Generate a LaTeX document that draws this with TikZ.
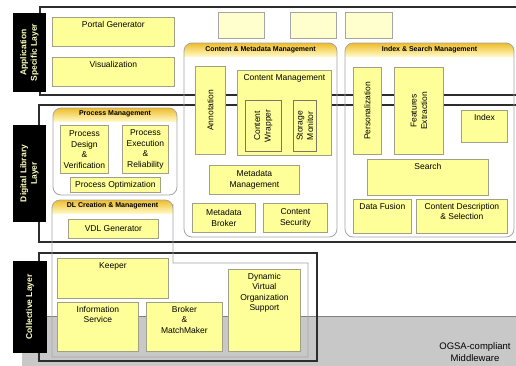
\documentclass[tikz,border=0pt]{standalone}
\usepackage{fontspec}
\setsansfont{Liberation Sans}
\definecolor{boxyellow}{RGB}{255,255,153}
\definecolor{paleyellow}{RGB}{255,255,205}
\definecolor{boxedge}{RGB}{160,160,135}
\definecolor{inneredge}{RGB}{120,120,100}
\definecolor{groupedge}{RGB}{165,165,165}
\definecolor{hdrtop}{RGB}{238,188,40}
\definecolor{hdrbottom}{RGB}{255,248,195}
\definecolor{labeltext}{RGB}{255,255,190}
\definecolor{mwgray}{RGB}{200,200,200}
\definecolor{layeredge}{RGB}{45,45,45}

\begin{document}
\begin{tikzpicture}[x=1pt,y=-1pt,font=\sffamily\fontsize{8.5}{10.5}\selectfont,
    ybox/.style={draw=boxedge,fill=boxyellow,line width=0.8pt,inner sep=0pt,align=center,anchor=north west},
    toptext/.style={anchor=north,inner sep=0pt,align=center,yshift=-4pt},
    vtext/.style={rotate=90,inner sep=0pt,align=center},
    layer/.style={draw=layeredge,line width=1.1pt},
    lyrlabel/.style={fill=black,text=labeltext,rotate=90,inner sep=0pt,align=center,
        font=\sffamily\bfseries\fontsize{8.5}{10.5}\selectfont},
    grp/.style={draw=groupedge,line width=0.8pt},
    hdrtext/.style={inner sep=0pt,font=\sffamily\bfseries\fontsize{7}{8}\selectfont}]
    \useasboundingbox[fill=white] (0,0) rectangle (516,365);
    \clip (0,0) rectangle (516,365);

    \fill[mwgray] (22,316) rectangle (530,370);
    \draw[gray] (22,316) -- (530,316);
    \node[align=center,inner sep=0pt,font=\sffamily\fontsize{9.5}{11.5}\selectfont] (ogsa) at (475,352) {OGSA-compliant\\Middleware};

    \draw[layer] (40,7) rectangle (530,95);
    \draw[layer] (39,105) rectangle (530,242);
    \draw[layer] (39,253) rectangle (317,361);

    \foreach \xa/\xb in {218/264,290/336,345/392}
        \draw[draw=groupedge,fill=paleyellow,line width=0.8pt] (\xa,12) rectangle (\xb,38);

    \foreach \xa/\ya/\xb/\yb in {53/108/177/195,52/200/173/263,184/43/337/237,345/43/514/237}{
        \begin{scope}
            \clip[rounded corners=8] (\xa,\ya) rectangle (\xb,\yb);
            \shade[top color=hdrtop,bottom color=hdrbottom] (\xa,\ya) rectangle (\xb,\ya+13);
        \end{scope}
    }
    \draw[grp,rounded corners=8] (53,108) rectangle (177,195);
    \draw[grp] (52,357) -- (52,212) [rounded corners=8] -- (52,200) -- (173,200) -- (173,212)
        [sharp corners] -- (173,263) -- (308,263) -- (308,357) -- cycle;
    \draw[grp,rounded corners=8] (184,43) rectangle (337,237);
    \draw[grp,rounded corners=8] (345,43) rectangle (514,237);

    \node[hdrtext] (pmhdr) at (115,114) {Process Management};
    \node[hdrtext] (dlhdr) at (112.5,206) {DL Creation \& Management};
    \node[hdrtext] (cmmhdr) at (260.5,49.5) {Content \& Metadata Management};
    \node[hdrtext] (ismhdr) at (429.5,49.5) {Index \& Search Management};

    \node[ybox,minimum width=122,minimum height=29] (portal) at (52,17) {};
    \node[toptext] (portaltxt) at (portal.north) {Portal Generator};
    \node[ybox,minimum width=122,minimum height=29] (visual) at (52,57) {};
    \node[toptext] (visualtxt) at (visual.north) {Visualization};

    \node[ybox,minimum width=48,minimum height=48] (pdesign) at (60,125) {Process\\Design\\\&\\Verification};
    \node[ybox,minimum width=46,minimum height=48] (pexec) at (122,125) {Process\\Execution\\\&\\Reliability};
    \node[ybox,minimum width=90,minimum height=15] (popt) at (70,177) {Process Optimization};
    \node[ybox,minimum width=90,minimum height=19] (vdl) at (68,219) {VDL Generator};

    \node[ybox,minimum width=30,minimum height=88] (annot) at (195,66) {};
    \node[vtext] (annottxt) at (annot) {Annotation};
    \node[ybox,minimum width=94,minimum height=85] (cman) at (237,70) {};
    \node[toptext] (cmantxt) at (cman.north) {Content Management};
    \node[ybox,draw=inneredge,minimum width=36,minimum height=51] (cwrap) at (245,100) {};
    \node[vtext] (cwraptxt) at (cwrap) {Content\\Wrapper};
    \node[ybox,draw=inneredge,minimum width=23,minimum height=51] (smon) at (293,100) {};
    \node[vtext] (smontxt) at (smon) {Storage\\Monitor};
    \node[ybox,minimum width=90,minimum height=29] (mdman) at (209,165) {Metadata\\Management};
    \node[ybox,minimum width=63,minimum height=29] (mdbroker) at (192,203) {Metadata\\Broker};
    \node[ybox,minimum width=64,minimum height=29] (csec) at (263,203) {Content\\Security};

    \node[ybox,minimum width=28,minimum height=87] (person) at (353,67) {};
    \node[vtext] (persontxt) at (person) {Personalization};
    \node[ybox,minimum width=49,minimum height=87] (featx) at (394,67) {};
    \node[vtext] (featxtxt) at (featx) {Features\\Extraction};
    \node[ybox,minimum width=46,minimum height=32] (index) at (461,110) {};
    \node[toptext] (indextxt) at (index.north) {Index};
    \node[ybox,minimum width=121,minimum height=36] (search) at (367,159) {};
    \node[toptext] (searchtxt) at (search.north) {Search};
    \node[ybox,minimum width=58,minimum height=34] (dfusion) at (353,199) {};
    \node[toptext] (dfusiontxt) at (dfusion.north) {Data Fusion};
    \node[ybox,minimum width=91,minimum height=34] (cdesc) at (416,199) {};
    \node[toptext] (cdesctxt) at (cdesc.north) {Content Description\\\& Selection};

    \node[ybox,minimum width=111,minimum height=40] (keeper) at (57,258) {};
    \node[toptext] (keepertxt) at (keeper.north) {Keeper};
    \node[ybox,minimum width=81,minimum height=49] (infoserv) at (57,302) {};
    \node[toptext] (infoservtxt) at (infoserv.north) {Information\\Service};
    \node[ybox,minimum width=76,minimum height=49] (broker) at (146,302) {};
    \node[toptext] (brokertxt) at (broker.north) {Broker\\\&\\MatchMaker};
    \node[ybox,minimum width=72,minimum height=82] (dvos) at (228,269) {};
    \node[toptext] (dvostxt) at (dvos.north) {Dynamic\\Virtual\\Organization\\Support};

    \node[lyrlabel,minimum width=79,minimum height=33] (applbl) at (29.5,52.5) {Application\\Specific Layer};
    \node[lyrlabel,minimum width=97,minimum height=33] (dllbl) at (29.5,173.5) {Digital Library\\Layer};
    \node[lyrlabel,minimum width=92,minimum height=34] (collbl) at (30,307) {Collective Layer};
    \end{tikzpicture}
\end{document}
